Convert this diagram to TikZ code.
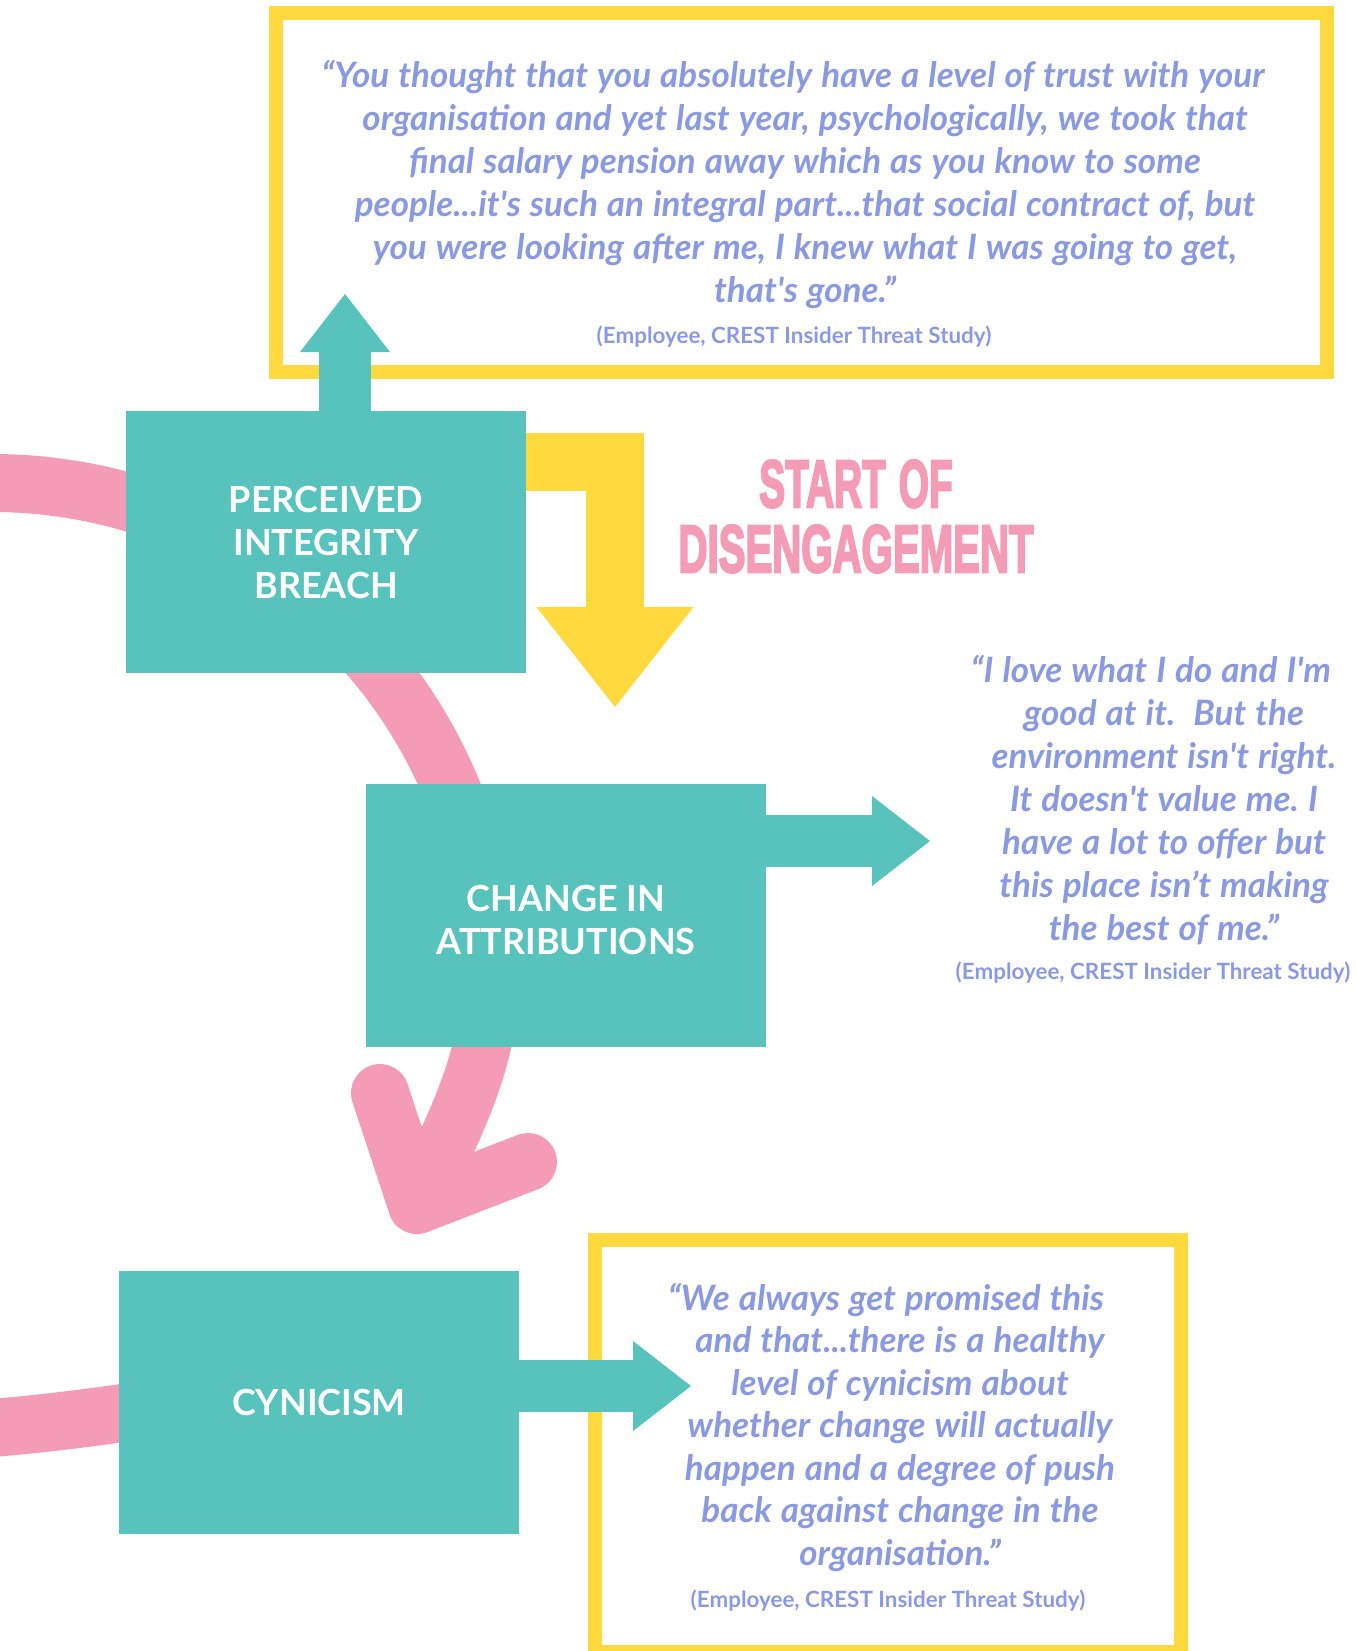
\documentclass[tikz,border=0pt]{standalone}
\usepackage{fontspec}
\usepackage{graphicx}
\setmainfont{Lato}
\newfontfamily\titlefont[BoldFeatures={FakeBold=4}]{Liberation Sans}
\newcommand{\myq}{\textquotesingle}
\newcommand{\quotesetup}{\frenchspacing\spaceskip=9pt\relax}
\usetikzlibrary{arrows.meta}
\pgfdeclarelayer{bg}
\pgfsetlayers{bg,main}
\definecolor{tealc}{HTML}{57C3BC}
\definecolor{pinkc}{HTML}{F49BB5}
\definecolor{yellowc}{HTML}{FFD93E}
\definecolor{quotec}{HTML}{8A9AE1}
\begin{document}
\begin{tikzpicture}[x=1pt,y=-1pt,
  box/.style={fill=tealc, draw=none, minimum width=400pt, inner sep=0pt, align=center, text=white, font=\fontsize{36}{43}\selectfont\bfseries},
  quote/.style={text=quotec, align=center, inner sep=0pt, anchor=base, font=\fontsize{35}{43}\selectfont\bfseries\itshape, execute at begin node=\quotesetup},
  cite/.style={text=quotec, inner sep=0pt, anchor=base, font=\fontsize{22.4}{26}\selectfont\bfseries},
  frame/.style={draw=yellowc, line width=14pt},
  pinkline/.style={draw=pinkc, line width=58pt},
  tealarrow/.style={draw=tealc, line width=52pt, -{Triangle[length=58pt,width=90pt,line width=0pt]}},
  yellowarrow/.style={draw=yellowc, line width=58pt, line join=miter, -{Triangle[length=100pt,width=157pt,line width=0pt]}},
  title/.style={text=pinkc, align=center, inner sep=0pt, anchor=base, text width=500pt, font=\titlefont\bfseries\fontsize{67}{65}\selectfont},
]
\useasboundingbox (0,0) rectangle (1355,1651);

% boxes
\node[box, minimum height=262pt] (pib) at (326,542) {PERCEIVED\\INTEGRITY\\BREACH};
\node[box, minimum height=263pt] (chg) at (566,915.5) {\rule{0pt}{36pt}CHANGE IN\\ATTRIBUTIONS};
\node[box, minimum height=263pt] (cyn) at (319,1402.5) {CYNICISM};

% named points
\coordinate (pc) at (-8,981);
\coordinate (ptip) at (417,1205);
\coordinate (hl) at (380,1093);
\coordinate (hr) at (528,1162);
\coordinate (bl0) at (-100,1433);
\coordinate (bl1) at (250,1392);
\coordinate (y0) at (0,462);
\coordinate (t4) at (615,707);
\coordinate (t1) at (345,294);
\coordinate (t2) at (930,841);
\coordinate (t3) at (691,1386);

\begin{pgfonlayer}{bg}
% pink loop
\draw[pinkline] (pc) ++(-100:498) arc[start angle=-100,end angle=0,radius=498]
   .. controls (490,1061) and (451,1133) .. (ptip);
\draw[pinkline, line cap=round, line join=round] (hl) -- (ptip) -- (hr);
\draw[pinkline] (bl0) .. controls (20,1430) and (140,1412) .. (bl1);
% yellow frames
\draw[frame] (276,13) rectangle (1327,372);
\draw[frame] (595,1240) rectangle (1181,1652);
% yellow arrow
\draw[yellowarrow] (pib.east |- y0) -| (t4);
% teal arrows
\draw[tealarrow] (pib.north -| t1) -- (t1);
\draw[tealarrow] (chg.east |- t2) -- (t2);
\draw[tealarrow] (cyn.east |- t3) -- (t3);
\end{pgfonlayer}

% title
\node[title] (ttl) at (856,507) {\scalebox{0.58}[1]{START OF}\\\scalebox{0.6}[1]{DISENGAGEMENT}};

% quotes
\node[quote, text width=1040pt] (q1) at (805,88) {“You thought that you absolutely have a level of trust with your\rule{24pt}{0pt}\\
organisation and yet last year, psychologically, we took that\\
final salary pension away which as you know to some\\
people...it\myq s such an integral part...that social contract of, but\\
you were looking after me, I knew what I was going to get,\\
that\myq s gone.”};
\node[cite] (c1) at (794,343) {(Employee, CREST Insider Threat Study)};

\node[quote, text width=440pt] (q2) at (1164,682) {“I love what I do and I\myq m\rule{26pt}{0pt}\\
good at it.\ \ But the\\
environment isn\myq t right.\\
It doesn\myq t value me. I\\
have a lot to offer but\\
this place isn’t making\\
the best of me.”};
\node[cite] (c2) at (1153,979) {(Employee, CREST Insider Threat Study)};

\node[quote, text width=540pt, font=\fontsize{35}{42.5}\selectfont\bfseries\itshape] (q3) at (900,1310) {“We always get promised this\rule{28pt}{0pt}\\
and that...there is a healthy\\
level of cynicism about\\
whether change will actually\\
happen and a degree of push\\
back against change in the\\
organisation.”};
\node[cite] (c3) at (888,1607) {(Employee, CREST Insider Threat Study)};
\end{tikzpicture}
\end{document}
